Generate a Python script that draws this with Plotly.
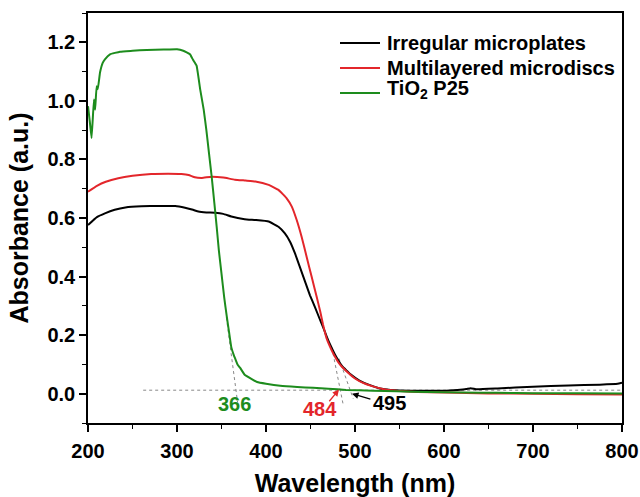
import plotly.graph_objects as go

# ---- data ----
wl_irregular = [200, 205, 210, 219, 230, 242, 260, 280, 298, 309, 318, 324, 333, 343, 352, 361, 376, 388, 403,
                414, 421, 427, 432.6, 438, 444, 449.4, 455, 461, 464, 468, 472, 479, 486, 491, 495, 505, 516,
                528, 540, 550, 575, 599, 615, 625, 630, 637, 660, 700, 740, 775, 795, 800]
abs_irregular = [0.576, 0.59, 0.603, 0.616, 0.628, 0.636, 0.64, 0.641, 0.641, 0.635, 0.628, 0.622, 0.619, 0.618,
                 0.614, 0.605, 0.596, 0.593, 0.588, 0.57, 0.548, 0.519, 0.479, 0.433, 0.382, 0.336, 0.296, 0.25,
                 0.228, 0.197, 0.168, 0.125, 0.092, 0.078, 0.066, 0.045, 0.03, 0.018, 0.013, 0.011, 0.01, 0.01,
                 0.013, 0.016, 0.019, 0.015, 0.018, 0.024, 0.028, 0.031, 0.034, 0.038]

wl_multi = [200, 210, 220, 234, 250, 271, 290, 305, 313, 320, 328, 339, 352, 365, 377, 388, 403, 414, 423, 429,
            434.5, 440, 445.7, 451.3, 457, 461, 464, 468, 472, 476, 483, 491, 500, 509, 520, 531, 547, 570, 600,
            650, 700, 750, 800]
abs_multi = [0.69, 0.71, 0.724, 0.736, 0.744, 0.75, 0.751, 0.75, 0.747, 0.739, 0.737, 0.741, 0.738, 0.731, 0.728,
             0.725, 0.713, 0.696, 0.668, 0.639, 0.593, 0.536, 0.467, 0.399, 0.33, 0.28, 0.237, 0.19, 0.16,
             0.135, 0.1, 0.075, 0.052, 0.037, 0.025, 0.016, 0.01, 0.006, 0.004, 0.001, 0.0, -0.002, -0.003]

wl_p25 = [200, 202, 204, 206.7, 208, 209.7, 211, 213.5, 216.5, 219, 224.7, 236, 250, 266, 285, 300, 307, 314.6,
          318, 322, 326, 330, 333, 336, 339, 342, 344.6, 347, 350, 353, 356, 358.5, 361, 364, 366, 368, 371, 376,
          384, 390, 400, 416, 435, 453, 470, 490, 520, 547, 580, 621, 660, 700, 750, 800]
abs_p25 = [0.982, 0.93, 0.873, 1.005, 0.97, 1.05, 1.04, 1.097, 1.13, 1.142, 1.159, 1.168, 1.171, 1.174, 1.175,
           1.176, 1.171, 1.159, 1.14, 1.12, 1.04, 0.97, 0.9, 0.82, 0.74, 0.65, 0.57, 0.49, 0.41, 0.33, 0.262,
           0.21, 0.159, 0.13, 0.115, 0.1, 0.088, 0.065, 0.05, 0.04, 0.034, 0.027, 0.023, 0.02, 0.017, 0.013,
           0.01, 0.008, 0.006, 0.004, 0.003, 0.002, 0.002, 0.001]

series_names = ["Irregular microplates", "Multilayered microdiscs", "TiO<sub>2</sub> P25"]
series_colors = ["#000000", "#e3262b", "#1d8c1d"]

edge_labels = ["366", "484", "495"]
edge_label_pos = [(365, -0.034), (460.7, -0.051), (539, -0.03)]
baseline_y = 0.012
tangents = [((355.5, 0.26), (368.1, -0.03)), ((474, 0.158), (486.5, -0.034)), ((482, 0.12), (498, -0.017))]

x_ticks = [200, 300, 400, 500, 600, 700, 800]
y_ticks = [0.0, 0.2, 0.4, 0.6, 0.8, 1.0, 1.2]

FONT = "Liberation Sans, Arial, sans-serif"

# plot area in pixels (for placing the hand-made legend in paper coordinates)
W, H = 640, 497
ML, MR, MT, MB = 88, 18, 13, 74
PW, PH = W - ML - MR, H - MT - MB


def px_to_paper(px, py):
    return (px - ML) / PW, (H - MB - py) / PH


fig = go.Figure()
for wl, ab, name, col in zip([wl_irregular, wl_multi, wl_p25], [abs_irregular, abs_multi, abs_p25],
                             series_names, series_colors):
    fig.add_trace(go.Scatter(x=wl, y=ab, mode="lines", name=name, showlegend=False,
                             line=dict(color=col, width=2, shape="spline", smoothing=0.3)))

# legend (drawn by hand to match the original spacing)
legend_rows_py = [43, 68, 93]
for name, col, py in zip(series_names, series_colors, legend_rows_py):
    x0, y0 = px_to_paper(340, py)
    x1, _ = px_to_paper(380, py)
    xt, _ = px_to_paper(385, py)
    fig.add_shape(type="line", xref="paper", yref="paper", x0=x0, x1=x1, y0=y0, y1=y0,
                  line=dict(color=col, width=2))
    yshift = 3 if "<sub>" in name else 0
    fig.add_annotation(xref="paper", yref="paper", x=xt, y=y0, xanchor="left", yanchor="middle",
                       text=f"<b>{name}</b>", showarrow=False, yshift=yshift,
                       font=dict(family=FONT, size=20, color="black"))

# dotted baseline and tangent lines
fig.add_shape(type="line", x0=262, x1=800, y0=baseline_y, y1=baseline_y, layer="below",
              line=dict(color="#888888", width=1, dash="dot"))
for (p0, p1) in tangents:
    fig.add_shape(type="line", x0=p0[0], y0=p0[1], x1=p1[0], y1=p1[1], layer="below",
                  line=dict(color="#888888", width=1, dash="dot"))

for lab, (lx, ly), col in zip(edge_labels, edge_label_pos, series_colors[::-1]):
    fig.add_annotation(x=lx, y=ly, text=f"<b>{lab}</b>", showarrow=False,
                       font=dict(family=FONT, size=20, color=col))

# arrows
fig.add_annotation(x=482, y=0.014, ax=469.7, ay=-0.031, axref="x", ayref="y", text="", showarrow=True,
                   arrowhead=2, arrowsize=1, arrowwidth=1.3, arrowcolor=series_colors[1])
fig.add_annotation(x=496.6, y=0.0, ax=519, ay=-0.02, axref="x", ayref="y", text="", showarrow=True,
                   arrowhead=2, arrowsize=1, arrowwidth=1.3, arrowcolor="#000000")

axis_common = dict(showline=True, linecolor="black", linewidth=1.5, mirror=True, ticks="outside",
                   ticklen=7, tickwidth=1.5, tickcolor="black", showgrid=False, zeroline=False,
                   automargin=False,
                   tickfont=dict(family=FONT, size=20, color="black"))

fig.update_xaxes(range=[200, 800], tickvals=x_ticks, ticktext=[f"<b>{v}</b>" for v in x_ticks],
                 minor=dict(ticks="outside", ticklen=4, tickwidth=1.2, tickcolor="black", dtick=50, tick0=200),
                 ticklabelstandoff=2,
                 title=dict(text="<b>Wavelength (nm)</b>", font=dict(family=FONT, size=25, color="black"),
                            standoff=15),
                 **axis_common)
fig.update_yaxes(range=[-0.1, 1.3], tickvals=y_ticks, ticktext=[f"<b>{v:.1f}</b>" for v in y_ticks],
                 minor=dict(ticks="outside", ticklen=4, tickwidth=1.2, tickcolor="black", dtick=0.1, tick0=0),
                 title=dict(text="<b>Absorbance (a.u.)</b>", font=dict(family=FONT, size=25, color="black"),
                            standoff=12),
                 **axis_common)

fig.update_layout(width=W, height=H, margin=dict(l=ML, r=MR, t=MT, b=MB, autoexpand=False),
                  plot_bgcolor="white", paper_bgcolor="white", showlegend=False,
                  font=dict(family=FONT, color="black"))

fig.write_html("out.html")
